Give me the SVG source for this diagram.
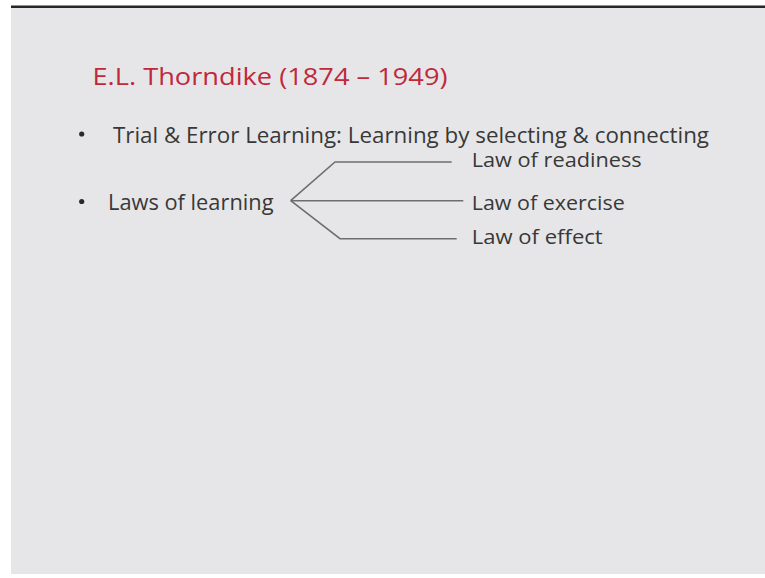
<svg xmlns="http://www.w3.org/2000/svg" width="765" height="578" viewBox="0 0 765 578">
<style>
.t{font-family:"Open Sans","Liberation Sans",sans-serif;fill:#383838;font-size:21px}
.s{font-size:20px}
.title{font-family:"Open Sans","Liberation Sans",sans-serif;fill:#c0283c;font-size:24.5px}
.c{stroke:#6e6e6e;stroke-width:1.6;fill:none}
.b{fill:#2a2a2a}
</style>
<rect x="0" y="0" width="765" height="578" fill="#ffffff"/>
<rect x="11" y="8" width="754" height="566" fill="#e6e6e8"/>
<rect x="11" y="5.5" width="754" height="2.5" fill="#262626"/>
<g id="title"><text class="title" x="92.5" y="85" textLength="355" lengthAdjust="spacingAndGlyphs">E.L. Thorndike (1874 – 1949)</text></g>
<g id="bullet1"><circle class="b" cx="81.7" cy="134" r="2.6"/><text class="t" x="113" y="142.7" textLength="596" lengthAdjust="spacingAndGlyphs">Trial &amp; Error Learning: Learning by selecting &amp; connecting</text></g>
<g id="laws"><circle class="b" cx="81.7" cy="201.5" r="2.6"/><text class="t" x="108" y="210" textLength="165.5" lengthAdjust="spacingAndGlyphs">Laws of learning</text></g>
<g id="readiness"><text class="t s" x="471.7" y="167" textLength="170" lengthAdjust="spacingAndGlyphs">Law of readiness</text></g>
<g id="exercise"><text class="t s" x="471.7" y="210" textLength="153" lengthAdjust="spacingAndGlyphs">Law of exercise</text></g>
<g id="effect"><text class="t s" x="471.7" y="244" textLength="131" lengthAdjust="spacingAndGlyphs">Law of effect</text></g>
<g id="connectors">
<polyline class="c" points="451.7,162 335,162 290.7,200.7"/>
<line class="c" x1="290.7" y1="200.7" x2="463.3" y2="200.7"/>
<polyline class="c" points="290.7,200.7 340,238.7 456.7,238.7"/>
</g>
</svg>
